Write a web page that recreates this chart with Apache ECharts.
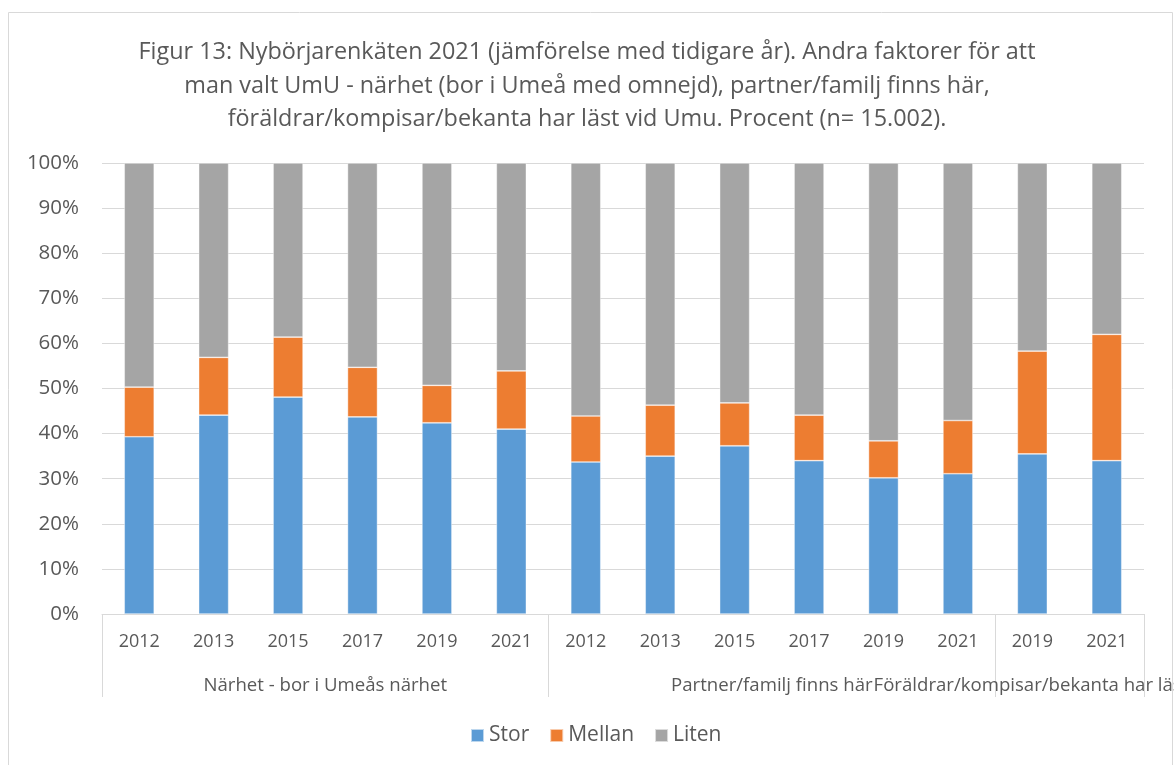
<!DOCTYPE html>
<html>
<head>
<meta charset="utf-8">
<script src="https://cdn.jsdelivr.net/npm/echarts@6/dist/echarts.min.js"></script>
<style>
    html, body { margin: 0; padding: 0; background: #fff; }
    #main { width: 1174px; height: 765px; }
</style>
</head>
<body>
<div id="main"></div>
<script>
// år per stapel
var years = ['2012', '2013', '2015', '2017', '2019', '2021',
    '2012', '2013', '2015', '2017', '2019', '2021',
    '2019', '2021'];
// gruppnamn (andra nivån på x-axeln), 15 gränspunkter
var groups = ['', '', '', 'Närhet - bor i Umeås närhet', '', '', '',
    '', '', 'Partner/familj finns här', '', '', '',
    'Föräldrar/kompisar/bekanta har läst vid Umu', ''];
var groupEdges = [0, 6, 12, 14];

var stor = [39.3, 44.1, 48.1, 43.7, 42.4, 41.0, 33.7, 35.0, 37.3, 34.0, 30.2, 31.1, 35.5, 34.0];
var mellan = [11.0, 12.8, 13.3, 11.0, 8.3, 12.9, 10.2, 11.3, 9.5, 10.1, 8.2, 11.8, 22.8, 28.0];
var liten = [49.7, 43.1, 38.6, 45.3, 49.3, 46.1, 56.1, 53.7, 53.2, 55.9, 61.6, 57.1, 41.7, 38.0];

var font = '"Open Sans", Lato, sans-serif';
var txt = '#595959';
var lineCol = '#d9d9d9';

var option = {
    animation: false,
    color: ['#5B9BD5', '#ED7D31', '#A5A5A5'],
    textStyle: { fontFamily: font },
    title: {
        text: 'Figur 13: Nybörjarenkäten 2021 (jämförelse med tidigare år). Andra faktorer för att\n' +
            'man valt UmU - närhet (bor i Umeå med omnejd), partner/familj finns här,\n' +
            'föräldrar/kompisar/bekanta har läst vid Umu. Procent (n= 15.002).',
        left: 'center',
        top: 31,
        textStyle: {
            fontFamily: font,
            fontSize: 23.4,
            fontWeight: 'normal',
            color: txt,
            lineHeight: 33.5
        }
    },
    graphic: [{
        type: 'rect',
        shape: { x: 8.5, y: 12.5, width: 1164, height: 800 },
        style: { fill: 'none', stroke: lineCol, lineWidth: 1 },
        silent: true
    }],
    legend: {
        bottom: 14,
        left: 465,
        itemWidth: 13,
        itemHeight: 13,
        itemGap: 20,
        icon: 'rect',
        data: ['Stor', 'Mellan', 'Liten'],
        textStyle: { fontFamily: font, fontSize: 21, color: txt }
    },
    grid: {
        left: 102,
        right: 30,
        top: 163,
        bottom: 151,
        containLabel: false,
        outerBoundsMode: 'none'
    },
    xAxis: [{
        type: 'category',
        data: years,
        axisLine: { lineStyle: { color: lineCol, width: 1 } },
        axisTick: { show: false },
        axisLabel: { color: txt, fontSize: 18, fontFamily: font, margin: 19 }
    }, {
        type: 'category',
        data: groups,
        boundaryGap: false,
        position: 'bottom',
        axisLine: { show: false },
        axisTick: {
            show: true,
            length: 83,
            interval: function (idx) { return groupEdges.indexOf(idx) >= 0; },
            lineStyle: { color: lineCol, width: 1 }
        },
        axisLabel: {
            interval: 0,
            color: txt,
            fontSize: 18.6,
            fontFamily: font,
            margin: 62,
            hideOverlap: false
        },
        splitLine: { show: false }
    }],
    yAxis: {
        type: 'value',
        min: 0,
        max: 100,
        interval: 10,
        axisLine: { show: false },
        axisTick: { show: false },
        axisLabel: { formatter: '{value}%', color: txt, fontSize: 20.5, fontFamily: font, margin: 23 },
        splitLine: { lineStyle: { color: lineCol, width: 1 } }
    },
    series: [{
        name: 'Stor',
        type: 'bar',
        stack: 'tot',
        barWidth: 30,
        itemStyle: { borderColor: 'rgba(255,255,255,0.6)', borderWidth: 0.7 },
        data: stor
    }, {
        name: 'Mellan',
        type: 'bar',
        stack: 'tot',
        barWidth: 30,
        itemStyle: { borderColor: 'rgba(255,255,255,0.6)', borderWidth: 0.7 },
        data: mellan
    }, {
        name: 'Liten',
        type: 'bar',
        stack: 'tot',
        barWidth: 30,
        itemStyle: { borderColor: 'rgba(255,255,255,0.6)', borderWidth: 0.7 },
        data: liten
    }]
};

//初始化echarts实例
var myChart = echarts.init(document.getElementById('main'));
myChart.setOption(option);
</script>
</body>
</html>
